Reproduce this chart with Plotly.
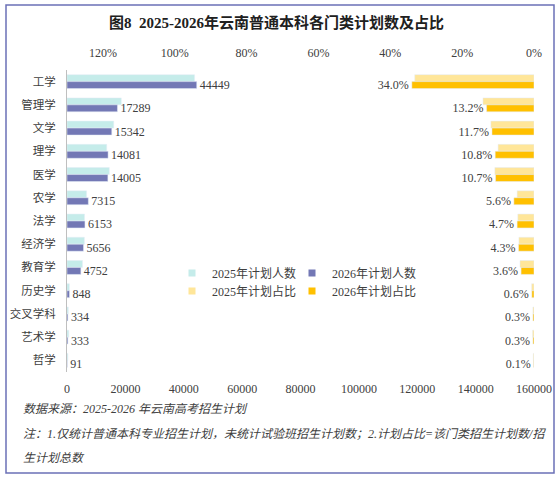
import plotly.graph_objects as go

categories = ["工学", "管理学", "文学", "理学", "医学", "农学", "法学", "经济学",
              "教育学", "历史学", "交叉学科", "艺术学", "哲学"]
count_2025 = [43700, 18600, 16000, 13600, 14500, 6700, 6000, 5950, 5300, 800, 450, 600, 300]
count_2026 = [44449, 17289, 15342, 14081, 14005, 7315, 6153, 5656, 4752, 848, 334, 333, 91]
share_2025 = [0.332, 0.142, 0.120, 0.100, 0.109, 0.047, 0.045, 0.042, 0.039, 0.0065, 0.003, 0.004, 0.002]
share_2026 = [0.340, 0.132, 0.117, 0.108, 0.107, 0.056, 0.047, 0.043, 0.036, 0.006, 0.003, 0.003, 0.001]
count_ticks = [0, 20000, 40000, 60000, 80000, 100000, 120000, 140000, 160000]
share_ticks = [0, 0.2, 0.4, 0.6, 0.8, 1.0, 1.2]

names = ["2025年计划人数", "2026年计划人数", "2025年计划占比", "2026年计划占比"]
colors = ["#C5ECEA", "#7378B5", "#FFE699", "#FFC000"]

W, H = 559, 478
PLOT_L, PLOT_R, PLOT_T, PLOT_B = 67, 534, 70, 372
ML, MR, MT, MB = PLOT_L, W - PLOT_R, PLOT_T, H - PLOT_B
PW, PH = W - ML - MR, H - MT - MB


def px(x):
    return (x - ML) / PW


def py(y):
    return (H - MB - y) / PH


FONT = "Liberation Serif, Noto Sans CJK SC, serif"
TXT = "#404040"

fig = go.Figure()
bw = 0.3
fig.add_trace(go.Bar(y=categories, x=count_2025, orientation="h", name=names[0],
                     marker_color=colors[0], width=bw, offset=-bw, xaxis="x", yaxis="y",
                     showlegend=False))
fig.add_trace(go.Bar(y=categories, x=count_2026, orientation="h", name=names[1],
                     marker_color=colors[1], width=bw, offset=0, xaxis="x", yaxis="y",
                     texttemplate="%{x:d}", textposition="outside", constraintext="none",
                     textfont=dict(family=FONT, size=12, color=TXT), cliponaxis=False,
                     showlegend=False))
fig.add_trace(go.Bar(y=categories, x=share_2025, orientation="h", name=names[2],
                     marker_color=colors[2], width=bw, offset=-bw, xaxis="x2", yaxis="y",
                     showlegend=False))
fig.add_trace(go.Bar(y=categories, x=share_2026, orientation="h", name=names[3],
                     marker_color=colors[3], width=bw, offset=0, xaxis="x2", yaxis="y",
                     texttemplate="%{x:.1%}", textposition="outside", constraintext="none",
                     textfont=dict(family=FONT, size=12, color=TXT), cliponaxis=False,
                     showlegend=False))

# legend entries (small square swatches)
legend_pos = [(172, 273), (292, 273), (172, 291), (292, 291)]
for i, (nm, c) in enumerate(zip(names, colors)):
    lid = "legend" if i == 0 else f"legend{i + 1}"
    fig.add_trace(go.Scatter(x=[None], y=[None], mode="markers", name=nm,
                             marker=dict(symbol="square", size=7, color=c),
                             legend=lid, xaxis="x", yaxis="y"))

legend_layout = {}
for i, (lx, ly) in enumerate(legend_pos):
    lid = "legend" if i == 0 else f"legend{i + 1}"
    legend_layout[lid] = dict(x=px(lx), y=py(ly), xanchor="left", yanchor="middle",
                              bgcolor="rgba(0,0,0,0)", orientation="h",
                              font=dict(family=FONT, size=12, color=TXT))

fig.update_layout(
    width=W, height=H,
    margin=dict(l=ML, r=MR, t=MT, b=MB, pad=0),
    paper_bgcolor="white", plot_bgcolor="white",
    barmode="overlay",
    font=dict(family=FONT, size=12, color=TXT),
    xaxis=dict(range=[0, 160000], tickvals=count_ticks, tickformat="d",
               showgrid=False, zeroline=False, showline=False, ticks="", automargin=False,
               ticklabelstandoff=8, tickfont=dict(family=FONT, size=12, color=TXT)),
    xaxis2=dict(range=[1.3, 0], overlaying="x", side="top", tickvals=share_ticks,
                tickformat=".0%", showgrid=False, zeroline=False, showline=False, ticks="",
                automargin=False,
                ticklabelstandoff=10, tickfont=dict(family=FONT, size=12, color=TXT)),
    yaxis=dict(categoryorder="array", categoryarray=categories, autorange="reversed",
               showgrid=False, zeroline=False, showline=True, linecolor="#BFBFBF",
               linewidth=1, ticks="", ticklabelstandoff=8, automargin=False,
               tickfont=dict(family=FONT, size=11.5, color=TXT)),
    **legend_layout,
)

# border round the whole picture
fig.add_shape(type="rect", xref="paper", yref="paper",
              x0=px(6), x1=px(554), y0=py(473), y1=py(5),
              line=dict(color="#6B70B6", width=1.5), fillcolor="rgba(0,0,0,0)", layer="above")

fig.add_annotation(text="<b>图8  2025-2026年云南普通本科各门类计划数及占比</b>",
                   xref="paper", yref="paper", x=px(276), y=py(22),
                   xanchor="center", yanchor="middle", showarrow=False,
                   font=dict(family=FONT, size=15, color="#202020"))

notes = [("数据来源：2025-2026 年云南高考招生计划", 409),
         ("注：1.仅统计普通本科专业招生计划，未统计试验班招生计划数；2.计划占比=该门类招生计划数/招", 434),
         ("生计划总数", 458)]
for t, yy in notes:
    fig.add_annotation(text=f"<i>{t}</i>", xref="paper", yref="paper",
                       x=px(21), y=py(yy), xanchor="left", yanchor="middle",
                       showarrow=False, font=dict(family=FONT, size=12, color=TXT))

fig.write_html("out.html", config={"displayModeBar": False},
               post_script="document.body.style.margin='0px';document.body.style.overflow='hidden';")
